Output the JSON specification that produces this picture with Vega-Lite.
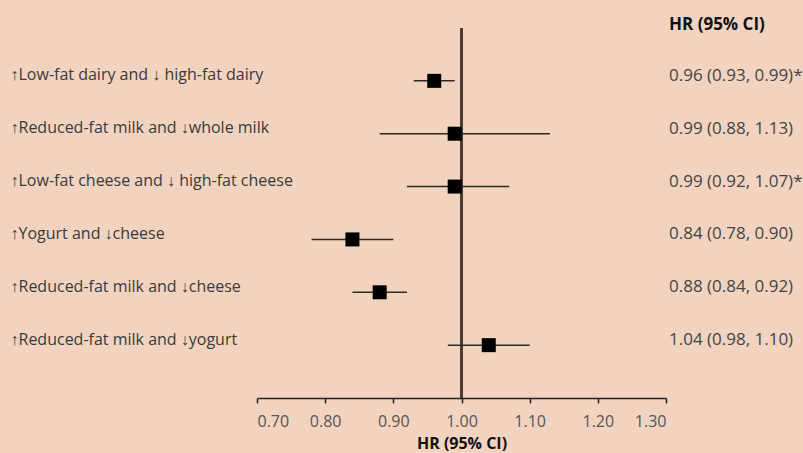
{
  "$schema": "https://vega.github.io/schema/vega-lite/v6.json",
  "width": 409,
  "height": 370,
  "autosize": {"type": "none"},
  "padding": {"left": 257, "top": 28, "right": 137, "bottom": 55},
  "background": "#f2d3bf",
  "config": {
    "view": {"stroke": null},
    "font": "Open Sans"
  },
  "title": {
    "text": "HR (95% CI)",
    "anchor": "end",
    "frame": "group",
    "align": "left",
    "baseline": "alphabetic",
    "dx": 3,
    "dy": 21,
    "offset": 1,
    "fontSize": 17,
    "fontWeight": "bold",
    "color": "#111111",
    "font": "Open Sans"
  },
  "data": {
    "values": [
      {"label": "↑Low-fat dairy and ↓ high-fat dairy", "hr": 0.96, "lo": 0.93, "hi": 0.99, "text": "0.96 (0.93, 0.99)*"},
      {"label": "↑Reduced-fat milk and ↓whole milk", "hr": 0.99, "lo": 0.88, "hi": 1.13, "text": "0.99 (0.88, 1.13)"},
      {"label": "↑Low-fat cheese and ↓ high-fat cheese", "hr": 0.99, "lo": 0.92, "hi": 1.07, "text": "0.99 (0.92, 1.07)*"},
      {"label": "↑Yogurt and ↓cheese", "hr": 0.84, "lo": 0.78, "hi": 0.90, "text": "0.84 (0.78, 0.90)"},
      {"label": "↑Reduced-fat milk and ↓cheese", "hr": 0.88, "lo": 0.84, "hi": 0.92, "text": "0.88 (0.84, 0.92)"},
      {"label": "↑Reduced-fat milk and ↓yogurt", "hr": 1.04, "lo": 0.98, "hi": 1.10, "text": "1.04 (0.98, 1.10)"}
    ]
  },
  "encoding": {
    "y": {
      "field": "label",
      "type": "nominal",
      "sort": null,
      "scale": {"type": "point", "padding": 1},
      "axis": {
        "title": null,
        "domain": false,
        "ticks": false,
        "labelAlign": "left",
        "labelBaseline": "alphabetic",
        "labelPadding": 247,
        "labelOffset": -1,
        "labelLimit": 0,
        "labelFontSize": 16,
        "labelColor": "#3a3a3a",
        "labelFont": "Open Sans"
      }
    }
  },
  "layer": [
    {
      "mark": {"type": "rule", "color": "#4a3b33", "strokeWidth": 2},
      "encoding": {
        "x": {"datum": 1},
        "y": null
      }
    },
    {
      "mark": {"type": "rule", "color": "#2e2a28", "strokeWidth": 1.5},
      "encoding": {
        "x": {
          "field": "lo",
          "type": "quantitative",
          "scale": {"domain": [0.7, 1.3], "nice": false, "zero": false},
          "axis": {
            "values": [0.7, 0.8, 0.9, 1.0, 1.1, 1.2, 1.3],
            "format": ".2f",
            "grid": false,
            "domainColor": "#222222",
            "domainWidth": 1.5,
            "tickColor": "#222222",
            "tickWidth": 1.5,
            "tickSize": 5,
            "labelPadding": 10,
            "labelFontSize": 16,
            "labelColor": "#555555",
            "labelFont": "Open Sans",
            "title": "HR (95% CI)",
            "titleFontSize": 16,
            "titleFontWeight": "bold",
            "titleColor": "#111111",
            "titleFont": "Open Sans",
            "titlePadding": 6
          }
        },
        "x2": {"field": "hi"}
      }
    },
    {
      "mark": {"type": "square", "size": 196, "color": "#000000", "filled": true, "opacity": 1},
      "encoding": {
        "x": {"field": "hr", "type": "quantitative"}
      }
    },
    {
      "mark": {"type": "text", "align": "left", "baseline": "alphabetic", "dx": 3, "dy": 0, "fontSize": 17, "color": "#444444", "font": "Open Sans"},
      "encoding": {
        "x": {"datum": 1.3},
        "text": {"field": "text"}
      }
    }
  ]
}
